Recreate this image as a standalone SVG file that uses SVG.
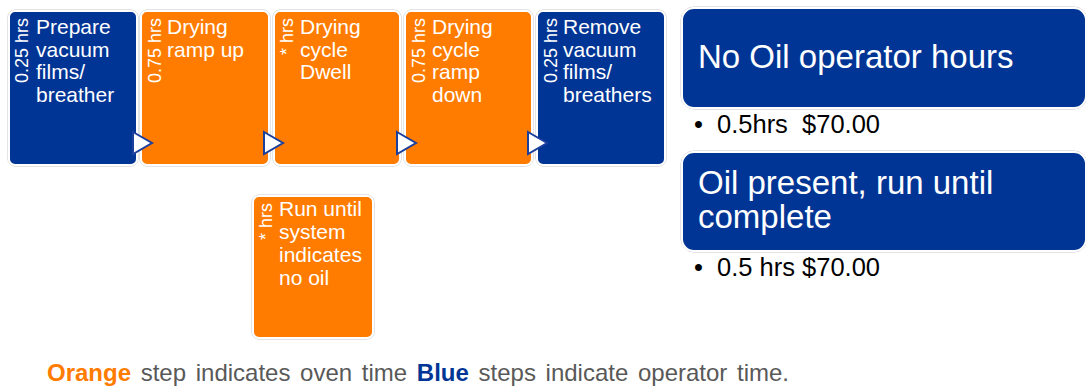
<svg xmlns="http://www.w3.org/2000/svg" width="1086" height="387" viewBox="0 0 1086 387">
<style>
.box{stroke:#ffffff;stroke-width:2}
.edge{fill:none;stroke:#c8c8c8;stroke-width:1}
.blue{fill:#013595}
.orange{fill:#FF7C00}
.t{font-family:"Liberation Sans",Arial,sans-serif;font-size:21px;fill:#ffffff}
.r{font-family:"Liberation Sans",Arial,sans-serif;font-size:18px;fill:#ffffff;text-anchor:end}
.big{font-family:"Liberation Sans",Arial,sans-serif;font-size:33px;fill:#ffffff}
.bul{font-family:"Liberation Sans",Arial,sans-serif;font-size:25.5px;fill:#000000}
.arr{fill:#ffffff;stroke:#1c3f9c;stroke-width:2;stroke-linejoin:miter}
.foot{font-family:"Liberation Sans",Arial,sans-serif;font-size:24px;fill:#595959;word-spacing:3px}
</style>
<g id="step1">
<rect class="edge" x="8" y="10" width="130" height="156" rx="7"/>
<rect class="box blue" x="9" y="11" width="128" height="154" rx="6"/>
<text class="r" transform="translate(28,18) rotate(-90)">0.25 hrs</text>
<text class="t" x="36" y="34">Prepare<tspan x="36" dy="22.5">vacuum</tspan><tspan x="36" dy="22.5">films/</tspan><tspan x="36" dy="22.5">breather</tspan></text>
</g>
<g id="step2">
<rect class="edge" x="140" y="10" width="130" height="156" rx="7"/>
<rect class="box orange" x="141" y="11" width="128" height="154" rx="6"/>
<text class="r" transform="translate(161,18) rotate(-90)">0.75 hrs</text>
<text class="t" x="167" y="34">Drying<tspan x="167" dy="22.5">ramp up</tspan></text>
</g>
<g id="step3">
<rect class="edge" x="273" y="10" width="128" height="156" rx="7"/>
<rect class="box orange" x="274" y="11" width="126" height="154" rx="6"/>
<text class="r" transform="translate(293,18) rotate(-90)">* hrs</text>
<text class="t" x="300" y="34">Drying<tspan x="300" dy="22.5">cycle</tspan><tspan x="300" dy="22.5">Dwell</tspan></text>
</g>
<g id="step4">
<rect class="edge" x="404" y="10" width="129" height="156" rx="7"/>
<rect class="box orange" x="405" y="11" width="127" height="154" rx="6"/>
<text class="r" transform="translate(425,18) rotate(-90)">0.75 hrs</text>
<text class="t" x="432" y="34">Drying<tspan x="432" dy="22.5">cycle</tspan><tspan x="432" dy="22.5">ramp</tspan><tspan x="432" dy="22.5">down</tspan></text>
</g>
<g id="step5">
<rect class="edge" x="536" y="10" width="130" height="156" rx="7"/>
<rect class="box blue" x="537" y="11" width="128" height="154" rx="6"/>
<text class="r" transform="translate(557,18) rotate(-90)">0.25 hrs</text>
<text class="t" x="563" y="34">Remove<tspan x="563" dy="22.5">vacuum</tspan><tspan x="563" dy="22.5">films/</tspan><tspan x="563" dy="22.5">breathers</tspan></text>
</g>
<g id="step6">
<rect class="edge" x="252" y="195" width="122" height="144" rx="7"/>
<rect class="box orange" x="253" y="196" width="120" height="142" rx="6"/>
<text class="r" transform="translate(272,203) rotate(-90)">* hrs</text>
<text class="t" x="279" y="216">Run until<tspan x="279" dy="23">system</tspan><tspan x="279" dy="23">indicates</tspan><tspan x="279" dy="23">no oil</tspan></text>
</g>
<g id="connectors">
<polygon class="arr" points="133,132 152,143 133,154"/>
<polygon class="arr" points="264,132 283,143 264,154"/>
<polygon class="arr" points="397,132 416,143 397,154"/>
<polygon class="arr" points="528,132 547,143 528,154"/>
</g>
<g id="noOil">
<rect class="edge" x="681" y="7" width="406" height="102" rx="13"/>
<rect class="box blue" x="682" y="8" width="404" height="100" rx="12"/>
<text class="big" x="698" y="68">No Oil operator hours</text>
</g>
<g id="noOilCost">
<text class="bul" x="694" y="133">•</text>
<text class="bul" x="717" y="133" xml:space="preserve">0.5hrs  $70.00</text>
</g>
<g id="oilPresent">
<rect class="edge" x="681" y="151" width="406" height="101" rx="13"/>
<rect class="box blue" x="682" y="152" width="404" height="99" rx="12"/>
<text class="big" x="698" y="194">Oil present, run until<tspan x="698" dy="34">complete</tspan></text>
</g>
<g id="oilPresentCost">
<text class="bul" x="694" y="276">•</text>
<text class="bul" x="717" y="276">0.5 hrs $70.00</text>
</g>
<g id="legend">
<text class="foot" x="47" y="381"><tspan style="fill:#FF7C00;font-weight:bold">Orange</tspan> step indicates oven time <tspan style="fill:#013595;font-weight:bold">Blue</tspan> steps indicate operator time.</text>
</g>
</svg>
